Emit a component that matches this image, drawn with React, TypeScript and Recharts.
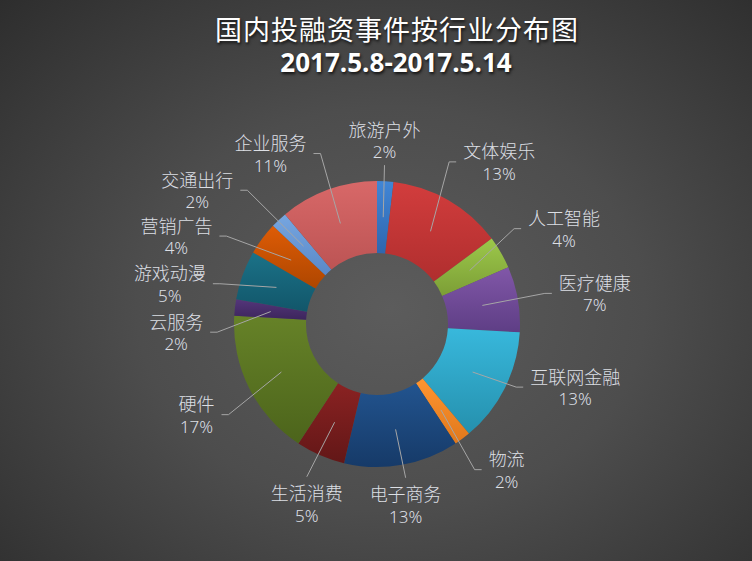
import { PieChart, Pie, Cell } from 'recharts';

const categories = ['旅游户外', '文体娱乐', '人工智能', '医疗健康', '互联网金融', '物流', '电子商务', '生活消费', '硬件', '云服务', '游戏动漫', '营销广告', '交通出行', '企业服务'];
const eventCounts = [1, 7, 2, 4, 7, 1, 7, 3, 9, 1, 3, 2, 1, 6];
const percentLabels = ['2%', '13%', '4%', '7%', '13%', '2%', '13%', '5%', '17%', '2%', '5%', '4%', '2%', '11%'];

const title = '国内投融资事件按行业分布图';
const subtitle = '2017.5.8-2017.5.14';

// top / bottom shade of each slice
const sliceColors = [
  ['#4186d6', '#2f66ae'],
  ['#d23d3d', '#b02e2e'],
  ['#9cc84a', '#7c9e36'],
  ['#8157a8', '#5e3e85'],
  ['#38b8dc', '#2590ad'],
  ['#ff9530', '#e0781c'],
  ['#22548f', '#163a68'],
  ['#8a2222', '#621717'],
  ['#668228', '#4c641b'],
  ['#54367a', '#3c255c'],
  ['#1b7288', '#12566a'],
  ['#de5c06', '#ae4600'],
  ['#76a6e0', '#5a88c8'],
  ['#d86868', '#bc5454'],
];

// label placement tweaks: [angle shift in degrees, distance from centre]
const labelPlacement = [
  [-1, 184], [7, 203], [3, 210], [2, 220], [-9, 208], [-5, 195], [1, 183],
  [-2, 193], [0, 202], [-9, 201], [-9, 211], [-13, 219], [-10, 224], [-12, 201],
];

const data = categories.map((name, i) => ({ name, value: eventCounts[i] }));

const RAD = Math.PI / 180;

function renderLabel(props: any) {
  const { cx, cy, midAngle, innerRadius, outerRadius, index } = props;
  const clock = 90 - midAngle;
  const [shift, dist] = labelPlacement[index];
  const la = (clock + shift) * RAD;
  const lx = cx + dist * Math.sin(la);
  const ly = cy - dist * Math.cos(la);

  const midR = (innerRadius + outerRadius) / 2;
  const sx = cx + midR * Math.sin(clock * RAD);
  const sy = cy - midR * Math.cos(clock * RAD);

  const name = categories[index];
  const hw = name.length * 9;
  let points: string;
  if (Math.abs(lx - cx) < hw * 2) {
    const ey = ly > cy ? ly - 27 : ly + 25;
    points = `${sx},${sy} ${lx},${ey}`;
  } else {
    const side = lx > cx ? 1 : -1;
    const ex = lx - side * (hw + 7);
    const bx = ex - side * 7;
    points = `${sx},${sy} ${bx},${ly} ${ex},${ly}`;
  }

  return (
    <g key={`lbl-${index}`}>
      <polyline points={points} fill="none" stroke="#a6a6a6" strokeWidth={1} />
      <text x={lx} y={ly - 11.5} textAnchor="middle" dominantBaseline="central" fill="#dcdfe4" fontSize={18} fontWeight={300} fontFamily="'Noto Sans CJK SC', sans-serif">
        {name}
      </text>
      <text x={lx} y={ly + 11.5} textAnchor="middle" dominantBaseline="central" fill="#dcdfe4" fontSize={17} fontWeight={300} fontFamily="'Noto Sans', sans-serif">
        {percentLabels[index]}
      </text>
    </g>
  );
}

export default function App() {
  return (
    <div
      style={{
        position: 'absolute',
        left: 0,
        top: 0,
        width: 752,
        height: 561,
        overflow: 'hidden',
        background: 'radial-gradient(ellipse 75% 80% at 52% 55%, #5c5c5c 0%, #4d4d4d 45%, #2c2c2c 100%)',
      }}
    >
      <svg width={0} height={0} style={{ position: 'absolute' }}>
        <defs>
          {sliceColors.map(([top, bottom], i) => (
            <linearGradient key={i} id={`slice${i}`} x1="0" y1="0" x2="0" y2="1">
              <stop offset="0%" stopColor={top} />
              <stop offset="100%" stopColor={bottom} />
            </linearGradient>
          ))}
        </defs>
      </svg>
      <div
        style={{
          position: 'absolute',
          left: 397,
          top: 15,
          transform: 'translateX(-50%)',
          whiteSpace: 'nowrap',
          color: '#ffffff',
          fontFamily: "'Noto Sans CJK SC', sans-serif",
          fontSize: 27,
          lineHeight: '28px',
          letterSpacing: 1,
          textShadow: '1px 2px 3px rgba(0,0,0,0.75)',
        }}
      >
        {title}
      </div>
      <div
        style={{
          position: 'absolute',
          left: 396,
          top: 49,
          transform: 'translateX(-50%)',
          whiteSpace: 'nowrap',
          color: '#ffffff',
          fontFamily: "'Open Sans', sans-serif",
          fontWeight: 700,
          fontSize: 26,
          lineHeight: '26px',
          textShadow: '1px 2px 3px rgba(0,0,0,0.75)',
        }}
      >
        {subtitle}
      </div>
      <PieChart width={752} height={561} margin={{ top: 0, right: 0, bottom: 0, left: 0 }} style={{ position: 'absolute', left: 0, top: 0 }}>
        <Pie
          data={data}
          dataKey="value"
          nameKey="name"
          cx={377}
          cy={324}
          innerRadius={71}
          outerRadius={143}
          startAngle={90}
          endAngle={-270}
          stroke="none"
          label={renderLabel}
          labelLine={false}
          isAnimationActive={false}
        >
          {data.map((entry, i) => (
            <Cell key={entry.name} fill={`url(#slice${i})`} />
          ))}
        </Pie>
      </PieChart>
    </div>
  );
}
